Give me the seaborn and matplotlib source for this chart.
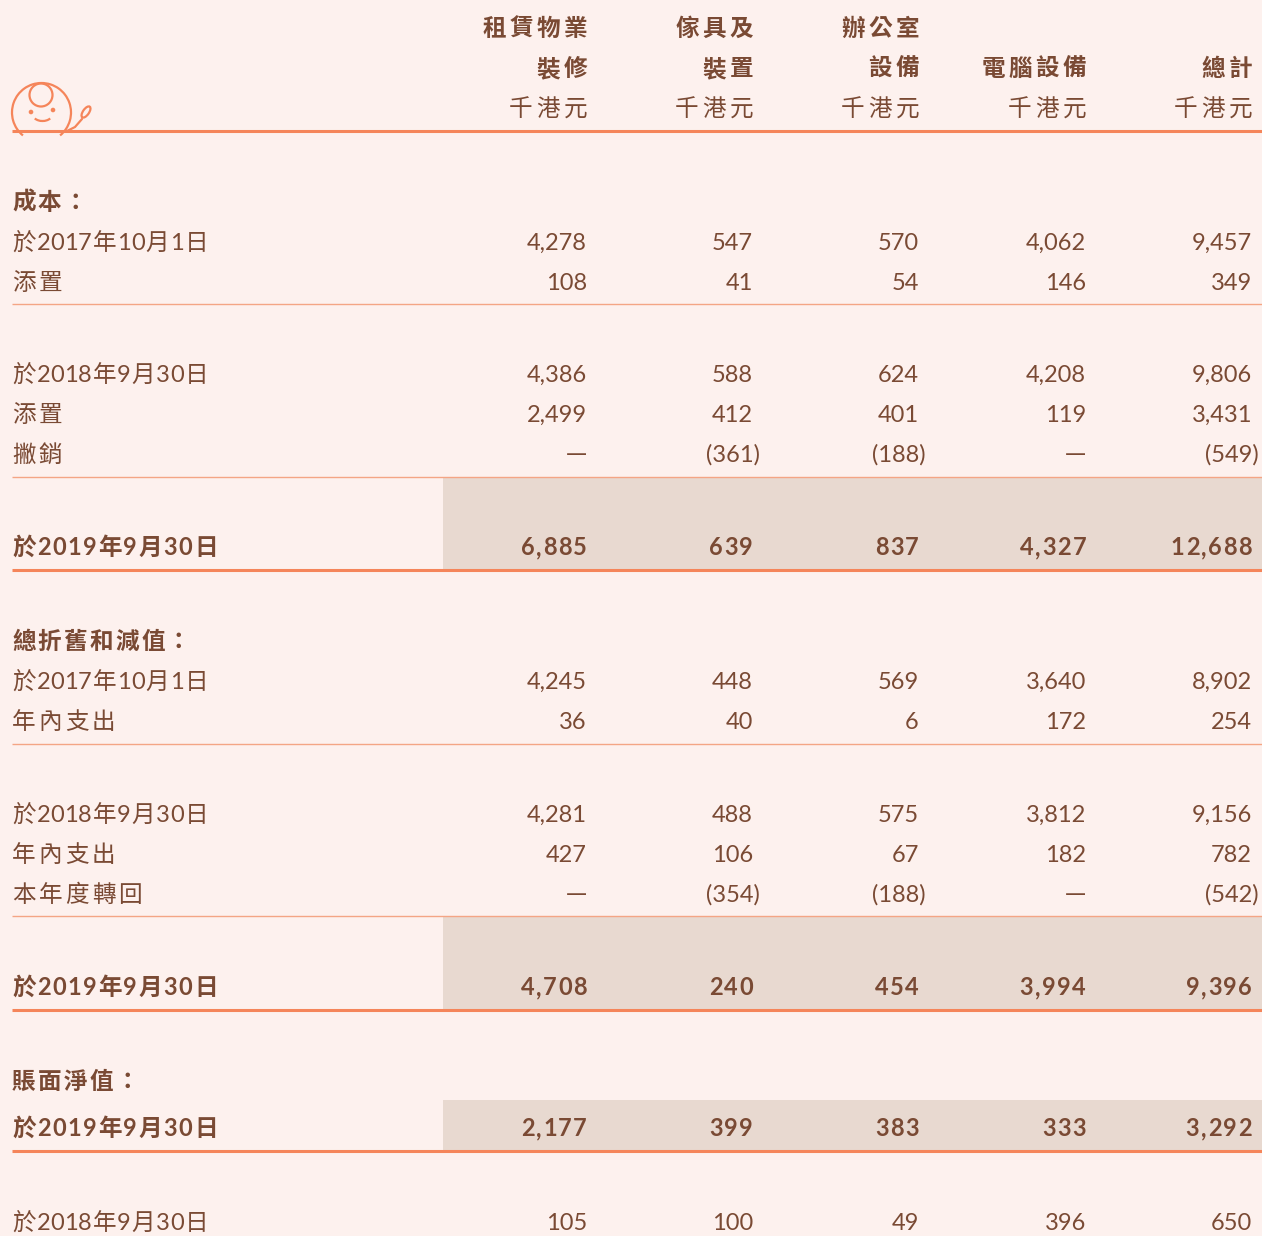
import matplotlib
matplotlib.use("Agg")
import matplotlib.pyplot as plt
from matplotlib.patches import Circle, Arc, Ellipse
import seaborn as sns

sns.set_theme(style="white")
plt.rcParams["font.family"] = ["Lato", "Noto Sans CJK TC", "DejaVu Sans"]

# ---- data ----
col_top = ["租賃物業", "傢具及", "辦公室", "", ""]
col_mid = ["裝修", "裝置", "設備", "電腦設備", "總計"]
col_unit = ["千港元", "千港元", "千港元", "千港元", "千港元"]

cost_2017 = [4278, 547, 570, 4062, 9457]
cost_add_2018 = [108, 41, 54, 146, 349]
cost_2018 = [4386, 588, 624, 4208, 9806]
cost_add_2019 = [2499, 412, 401, 119, 3431]
cost_writeoff = [None, -361, -188, None, -549]
cost_2019 = [6885, 639, 837, 4327, 12688]

dep_2017 = [4245, 448, 569, 3640, 8902]
dep_charge_2018 = [36, 40, 6, 172, 254]
dep_2018 = [4281, 488, 575, 3812, 9156]
dep_charge_2019 = [427, 106, 67, 182, 782]
dep_reversal = [None, -354, -188, None, -542]
dep_2019 = [4708, 240, 454, 3994, 9396]

nbv_2019 = [2177, 399, 383, 333, 3292]
nbv_2018 = [105, 100, 49, 396, 650]

# (label, values, kind, y-centre)
rows = [
    ("成本：", None, "head", 201),
    ("於2017年10月1日", cost_2017, "normal", 241),
    ("添置", cost_add_2018, "normal", 281),
    ("於2018年9月30日", cost_2018, "normal", 373),
    ("添置", cost_add_2019, "normal", 413),
    ("撇銷", cost_writeoff, "normal", 453),
    ("於2019年9月30日", cost_2019, "total", 546),
    ("總折舊和減值：", None, "head", 640),
    ("於2017年10月1日", dep_2017, "normal", 680),
    ("年內支出", dep_charge_2018, "normal", 720),
    ("於2018年9月30日", dep_2018, "normal", 813),
    ("年內支出", dep_charge_2019, "normal", 853),
    ("本年度轉回", dep_reversal, "normal", 893),
    ("於2019年9月30日", dep_2019, "total", 986),
    ("賬面淨值：", None, "head", 1080),
    ("於2019年9月30日", nbv_2019, "total", 1127),
    ("於2018年9月30日", nbv_2018, "normal", 1221),
]

# ---- layout ----
W, H = 1262, 1236
col_x = [587, 753, 919, 1086, 1252]
left = 12
bg = "#FDF1EE"
txt = "#7A4A34"
orange = "#F5855A"
thin = "#F4A585"
shade = "#E8D9D0"
fs = 17

fig = plt.figure(figsize=(W / 100, H / 100), dpi=100, facecolor=bg)
ax = fig.add_axes([0, 0, 1, 1])
ax.set_facecolor(bg)
ax.set_xlim(0, W)
ax.set_ylim(H, 0)
ax.axis("off")
renderer = fig.canvas.get_renderer()


def is_cjk(ch):
    return ord(ch) > 0x2E80


def spaced(x, y, s, ha="left", bold=False, cjk=3.0, mixed=1.0, latin=0.0,
           family=None):
    """draw text glyph by glyph with a little letter spacing"""
    kw = dict(va="baseline", fontsize=fs, color=txt,
              fontweight="bold" if bold else "normal")
    if family:
        kw["family"] = family
    parts = [ax.text(0, y, ch, ha="left", **kw) for ch in s]
    widths = [t.get_window_extent(renderer).width for t in parts]
    gaps = []
    for a, b in zip(s[:-1], s[1:]):
        ca, cb = is_cjk(a), is_cjk(b)
        gaps.append(cjk if (ca and cb) else mixed if (ca or cb) else latin)
    total = sum(widths) + sum(gaps)
    pos = x - total if ha == "right" else x
    for i, t in enumerate(parts):
        t.set_x(pos)
        pos += widths[i] + (gaps[i] if i < len(gaps) else 0)


# shaded total cells
for y0, y1 in [(478, 570), (917, 1010), (1100, 1151)]:
    ax.fill_between([443, W], y0, y1, color=shade, lw=0, zorder=0)


def rule(y, lw, c):
    ax.plot([left, W], [y, y], color=c, lw=lw, solid_capstyle="butt", zorder=1)


rule(131, 2.2, orange)
for y in [304, 477, 744, 916]:
    rule(y, 1.0, thin)
for y in [570, 1010, 1151]:
    rule(y, 2.2, orange)

# header
for i, x in enumerate(col_x):
    if col_top[i]:
        spaced(x, 27 + 9, col_top[i], ha="right", bold=True, cjk=3.3)
    spaced(x, 67 + 9, col_mid[i], ha="right", bold=True, cjk=3.3)
    spaced(x, 107 + 9, col_unit[i], ha="right", cjk=3.5)


def fmt(v):
    if v is None:
        return "—"
    if v < 0:
        return "({:,})".format(-v)
    return "{:,}".format(v)


for label, vals, kind, yc in rows:
    base = yc + 9
    if kind == "head":
        spaced(left, base, label, bold=True, cjk=2.2)
    elif kind == "total":
        spaced(left, base, label, bold=True, cjk=3.0, mixed=1.5, latin=1.5)
    else:
        spaced(left, base, label, cjk=3.0, mixed=1.0)
    if vals is None:
        continue
    for x, v in zip(col_x, vals):
        if v is None:
            ax.text(x, base - 1, fmt(v), ha="right", va="baseline", fontsize=fs,
                    color=txt, family="Noto Sans CJK TC")
        elif kind == "total":
            spaced(x, base, fmt(v), ha="right", bold=True, latin=1.5)
        else:
            off = 7 if v < 0 else 0
            ax.text(x + off, base, fmt(v), ha="right", va="baseline",
                    fontsize=fs, color=txt)

# little logo
lc = orange
ax.add_patch(Arc((41.5, 112.5), 59, 59, theta1=129, theta2=51, color=lc, lw=1.6))
ax.add_patch(Circle((41, 95), 11.5, fill=False, ec=lc, lw=1.6))
ax.add_patch(Circle((31, 112), 1.6, color=lc))
ax.add_patch(Circle((53, 110), 1.6, color=lc))
ax.add_patch(Arc((42.5, 114), 20, 14, theta1=30, theta2=150, color=lc, lw=1.6))
ax.plot([67, 75, 82], [131, 127, 119], color=lc, lw=1.6)
ax.add_patch(Ellipse((86, 112), 6, 13, angle=35, fill=False, ec=lc, lw=1.6))

fig.savefig("out.png", dpi=100, facecolor=bg)
